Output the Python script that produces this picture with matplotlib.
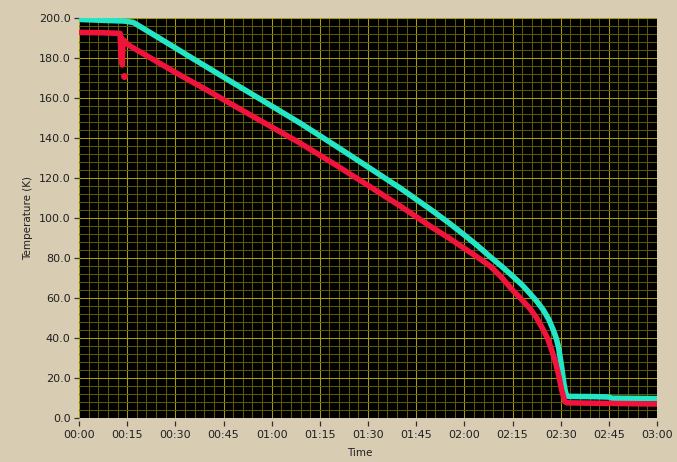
import matplotlib
matplotlib.use("Agg")
import matplotlib.pyplot as plt
from matplotlib.ticker import MultipleLocator, FixedLocator

# ---- data (time in minutes, temperature in K) ----
cyan_t = [0, 8, 14, 16.9, 20, 40, 60, 68.8, 80, 90, 100, 109.3, 115, 120, 124,
          128, 131.5, 135, 138, 140.4, 142.6, 144.6, 146.3, 147.7, 148.6, 149.3,
          150.3, 151.0, 151.5, 151.9, 152.5, 160, 165, 166, 180]
cyan_T = [199.3, 198.8, 198.5, 197.8, 194.8, 175.3, 156.0, 147.5, 136.0, 125.5,
          115.0, 104.5, 97.8, 91.5, 86.3, 80.7, 76.0, 71.0, 66.5, 62.3, 58.3,
          54.0, 49.3, 44.0, 40.0, 35.7, 25.7, 17.3, 13.0, 11.0, 10.8, 10.7,
          10.5, 9.9, 9.7]

red_t = [0, 8, 12.8, 13.1, 13.3, 13.5, 13.7, 14.3, 15.0, 15.9, 30, 40, 50, 60,
         68.8, 80, 90, 100, 109.3, 115, 120, 124, 128, 131.5, 135, 138, 140.4,
         142.6, 144.6, 146, 147.2, 148.2, 149.0, 149.7, 150.3, 150.9, 151.3,
         152, 160, 180]
red_T = [192.8, 192.6, 192.3, 180.0, 190.0, 176.5, 189.0, 188.5, 187.0, 186.0,
         172.8, 163.8, 154.6, 145.5, 137.5, 126.5, 116.3, 106.0, 96.0, 90.2,
         84.8, 80.5, 76.0, 70.5, 64.0, 59.0, 54.8, 49.8, 44.0, 39.5, 34.0,
         29.0, 24.0, 19.0, 14.0, 10.5, 8.2, 7.6, 7.4, 7.0]

red_dot_t = [14.0]
red_dot_T = [171.0]

x_ticks = [0, 15, 30, 45, 60, 75, 90, 105, 120, 135, 150, 165, 180]
x_labels = ["00:00", "00:15", "00:30", "00:45", "01:00", "01:15", "01:30",
            "01:45", "02:00", "02:15", "02:30", "02:45", "03:00"]
y_ticks = [0, 20, 40, 60, 80, 100, 120, 140, 160, 180, 200]
y_labels = ["%.1f" % v for v in y_ticks]

BG = "#D8CCB3"
CYAN = "#22E6C6"
RED = "#F0143C"

fig = plt.figure(figsize=(6.77, 4.62), dpi=100, facecolor=BG)
ax = fig.add_axes([79 / 677, 1 - 418 / 462, 578 / 677, 400 / 462])
ax.set_facecolor("black")

ax.set_xlim(0, 180)
ax.set_ylim(0, 200)

ax.xaxis.set_major_locator(FixedLocator(x_ticks))
ax.set_xticklabels(x_labels)
ax.yaxis.set_major_locator(FixedLocator(y_ticks))
ax.set_yticklabels(y_labels)
ax.xaxis.set_minor_locator(MultipleLocator(3))
ax.yaxis.set_minor_locator(MultipleLocator(4))

ax.grid(which="minor", color="#5E5800", linewidth=0.75, zorder=0)
ax.grid(which="major", color="#A89C00", linewidth=0.75, zorder=0)
ax.set_axisbelow(True)

ax.plot(cyan_t, cyan_T, color=CYAN, linewidth=4.0, solid_joinstyle="round",
        solid_capstyle="butt", zorder=3)
ax.plot(red_t, red_T, color=RED, linewidth=4.0, solid_joinstyle="round",
        solid_capstyle="butt", zorder=4)
ax.plot(red_dot_t, red_dot_T, "o", color=RED, markersize=4, zorder=4)

for s in ["top", "right", "left"]:
    ax.spines[s].set_visible(False)
ax.spines["bottom"].set_position(("outward", 2.5))
ax.spines["bottom"].set_visible(False)

ax.tick_params(axis="x", which="major", direction="out", length=3.5,
               width=0.9, color="#303030", labelsize=8, pad=3,
               labelcolor="#202020")
ax.tick_params(axis="y", which="major", direction="out", length=3.5,
               width=0.9, color="#303030", labelsize=8, pad=2.5,
               labelcolor="#202020")
ax.tick_params(which="minor", length=0)

ax.set_ylabel("Temperature (K)", fontsize=7.5, color="#202020")
ax.yaxis.set_label_coords(-0.08, 0.5)
ax.set_xlabel("Time", fontsize=7.5, color="#202020")
ax.xaxis.set_label_coords(0.485, -0.075)

fig.savefig("out.png", dpi=100, facecolor=BG)
